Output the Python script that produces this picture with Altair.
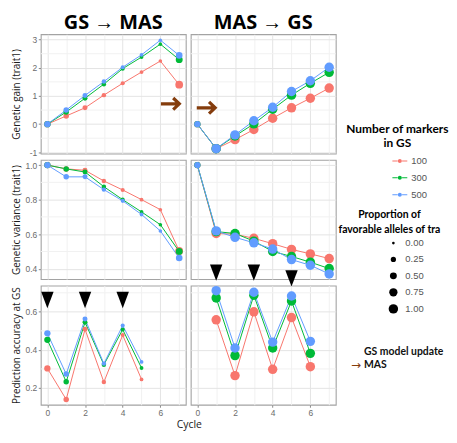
import altair as alt
import pandas as pd

cycles = [0, 1, 2, 3, 4, 5, 6, 7]
markers = ["100", "300", "500"]
colors = ["#F8766D", "#00BA38", "#619CFF"]
scenarios = ["GS → MAS", "MAS → GS"]

# ---- GS -> MAS ----
gain_gsmas = {
    "100": [0, 0.29, 0.58, 1.03, 1.45, 1.85, 2.24, 1.40],
    "300": [0, 0.43, 0.92, 1.42, 1.97, 2.38, 2.84, 2.29],
    "500": [0, 0.50, 1.02, 1.51, 2.02, 2.46, 2.98, 2.44],
}
var_gsmas = {
    "100": [1.0, 0.978, 0.970, 0.908, 0.856, 0.800, 0.742, 0.503],
    "300": [1.0, 0.978, 0.960, 0.875, 0.800, 0.729, 0.655, 0.500],
    "500": [1.0, 0.932, 0.932, 0.858, 0.793, 0.714, 0.619, 0.462],
}
acc_gsmas = {
    "100": [0.303, 0.140, 0.508, 0.231, 0.478, 0.245, None, None],
    "300": [0.453, 0.233, 0.545, 0.322, 0.507, 0.305, None, None],
    "500": [0.487, 0.273, 0.562, 0.328, 0.528, 0.337, None, None],
}
prop_gsmas = {
    "100": [0.40, 0.28, 0.22, 0.16, 0.12, 0.09, 0.07, 0.65],
    "300": [0.40, 0.28, 0.22, 0.16, 0.12, 0.09, 0.07, 0.50],
    "500": [0.40, 0.28, 0.22, 0.16, 0.12, 0.09, 0.07, 0.45],
}

# ---- MAS -> GS ----
gain_masgs = {
    "100": [0, -0.87, -0.55, -0.19, 0.21, 0.58, 0.92, 1.28],
    "300": [0, -0.87, -0.42, 0.01, 0.53, 1.03, 1.45, 1.84],
    "500": [0, -0.87, -0.38, 0.12, 0.60, 1.16, 1.54, 2.02],
}
var_masgs = {
    "100": [1.0, 0.604, 0.600, 0.576, 0.545, 0.512, 0.486, 0.459],
    "300": [1.0, 0.615, 0.604, 0.560, 0.500, 0.471, 0.438, 0.401],
    "500": [1.0, 0.619, 0.582, 0.550, 0.514, 0.453, 0.420, 0.370],
}
acc_masgs = {
    "100": [None, 0.558, 0.265, 0.600, 0.298, 0.570, 0.312, None],
    "300": [None, 0.673, 0.370, 0.687, 0.410, 0.657, 0.382, None],
    "500": [None, 0.711, 0.410, 0.703, 0.441, 0.683, 0.445, None],
}
prop_masgs = {
    "100": [0.40, 1, 1, 1, 1, 1, 1, 1],
    "300": [0.40, 1, 1, 1, 1, 1, 1, 1],
    "500": [0.40, 1, 1, 1, 1, 1, 1, 1],
}

# annotations
arrow_cycle = {"GS → MAS": 6.53, "MAS → GS": 0.47}
arrow_gain = {"GS → MAS": 0.72, "MAS → GS": 0.58}
update_cycles = {"GS → MAS": [0, 2, 4], "MAS → GS": [1, 3, 5]}
update_y = {"GS → MAS": [0.662, 0.662, 0.662], "MAS → GS": [0.806, 0.806, 0.776]}

series = {
    "GS → MAS": (gain_gsmas, var_gsmas, acc_gsmas, prop_gsmas),
    "MAS → GS": (gain_masgs, var_masgs, acc_masgs, prop_masgs),
}
rows = []
for scn in scenarios:
    g, v, a, p = series[scn]
    for m in markers:
        for i, c in enumerate(cycles):
            rows.append({"scenario": scn, "markers": m, "cycle": c,
                         "gain": g[m][i], "variance": v[m][i],
                         "accuracy": a[m][i], "prop": p[m][i]})
df = pd.DataFrame(rows)

BROWN = "#843C0C"
MAJOR_GRID = "#E4E4E4"
MINOR_GRID = "#F1F1F1"
W, H = 146, 120
XDOM = [-0.35, 7.35]

row_specs = [
    dict(field="gain", domain=[-1.04, 3.19], major=[-1, 0, 1, 2, 3], minor=[-0.5, 0.5, 1.5, 2.5],
         label="replace(datum.label, '\u2212', '-')", fmt="d", title="Genetic gain (trait1)"),
    dict(field="variance", domain=[0.34, 1.03], major=[0.4, 0.6, 0.8, 1.0], minor=[0.5, 0.7, 0.9],
         label="datum.label", fmt=".1f", title="Genetic variance (trait1)"),
    dict(field="accuracy", domain=[0.112, 0.738], major=[0.2, 0.4, 0.6], minor=[0.3, 0.5, 0.7],
         label="datum.label", fmt=".1f", title="Prediction accuracy at GS"),
]


def cond(test, a, b):
    return {"condition": {"test": test, "value": a}, "value": b}


color_legend = alt.Legend(
    title=["Number of markers", "in GS"], orient="none", legendX=307, legendY=90,
    titleAnchor="middle", titleAlign="center", titleFont="Lato", titleFontSize=12,
    titleFontWeight="bold", titleColor="black", titleLineHeight=15, titlePadding=3,
    symbolType="M-1,-0.07H-0.3V0.07H-1Z M0.3,-0.07H1V0.07H0.3Z M-0.27,0A0.27,0.27 0 1,0 0.27,0A0.27,0.27 0 1,0 -0.27,0Z",
    symbolSize=225, symbolOffset=24, symbolStrokeWidth=0, labelFont="Liberation Sans",
    labelFontSize=9.5, labelColor="#555555", labelOffset=4, rowPadding=5)

size_legend = alt.Legend(
    title=["Proportion of", "favorable alleles of tra"], orient="none", legendX=299, legendY=177,
    titleAnchor="middle", titleAlign="center", titleFont="Lato", titleFontSize=10.5,
    titleFontWeight="bold", titleColor="black", titleLineHeight=15, titlePadding=3,
    values=[0, 0.25, 0.5, 0.75, 1.0], format=".2f", symbolType="circle",
    symbolFillColor="black", symbolStrokeColor="black", symbolStrokeWidth=0,
    symbolOffset=34, labelFont="Liberation Sans", labelFontSize=9.5, labelColor="#555555",
    labelOffset=7, rowPadding=5.5, gridAlign="all")


def panel(r, col):
    spec = row_specs[r]
    scn = scenarios[col]
    f = spec["field"]
    left = col == 0
    bottom = r == 2
    sub = df[df["scenario"] == scn]

    xaxis = alt.Axis(
        values=cycles, grid=True, domain=False, labelOverlap=False,
        gridColor=cond("datum.value % 2 === 0", MAJOR_GRID, MINOR_GRID),
        labels=bottom, ticks=bottom, labelExpr="datum.value % 2 === 0 ? datum.label : ''",
        tickColor=cond("datum.value % 2 === 0", "#8a8a8a", "transparent"),
        tickSize=2.5, labelPadding=1.5, labelFont="Liberation Sans", labelFontSize=8.5,
        labelColor="#6b6b6b", title="Cycle" if (bottom and left) else None,
        titleX=149, titleAlign="center", titleFont="Open Sans", titleFontSize=10.5,
        titleFontWeight="normal", titleColor="#1a1a1a", titlePadding=2.5)
    yaxis = alt.Axis(
        values=spec["major"], grid=True, gridColor=MAJOR_GRID, domain=False, labelOverlap=False,
        labels=left, ticks=left, format=spec["fmt"], labelExpr=spec["label"],
        tickColor="#8a8a8a", tickSize=2.5, labelPadding=1.5, labelFont="Liberation Sans",
        labelFontSize=8.5, labelColor="#6b6b6b", minExtent=16, maxExtent=16,
        title=spec["title"] if left else None, titleFont="Open Sans", titleFontSize=10,
        titleFontWeight="normal", titleColor="#1a1a1a", titlePadding=3)

    x = alt.X("cycle:Q", scale=alt.Scale(domain=XDOM, nice=False, zero=False), axis=xaxis)
    y = alt.Y(f"{f}:Q", scale=alt.Scale(domain=spec["domain"], nice=False, zero=False), axis=yaxis)
    col_enc = alt.Color("markers:N", scale=alt.Scale(domain=markers, range=colors), legend=color_legend)

    minor = alt.Chart(pd.DataFrame({f: spec["minor"]})).mark_rule(
        color=MINOR_GRID, strokeWidth=1).encode(y=y)

    base = alt.Chart(sub).transform_filter(f"isValid(datum.{f})")
    lines = base.mark_line(strokeWidth=1).encode(x=x, y=y, color=col_enc)
    pts = base.mark_circle(opacity=1).encode(
        x=x, y=y, color=col_enc,
        size=alt.Size("prop:Q", scale=alt.Scale(domain=[0, 1], range=[7, 90]), legend=size_legend),
        order=alt.Order("markers:N"))
    layers = [minor, lines, pts]

    if r == 0:
        adf = pd.DataFrame({"cycle": [arrow_cycle[scn]], "gain": [arrow_gain[scn]]})
        layers.append(alt.Chart(adf).mark_point(
            shape="M-1,0L0.8,0M0.3,-0.62L0.95,0L0.3,0.62", filled=False, color=BROWN,
            strokeWidth=3.2, size=361, opacity=1).encode(x=x, y=y))
    if r == 2:
        tdf = pd.DataFrame({"cycle": update_cycles[scn], "accuracy": update_y[scn]})
        layers.append(alt.Chart(tdf).mark_point(
            shape="M-1,-1.32L1,-1.32L0,1.32Z", filled=True, color="black",
            size=156, opacity=1).encode(x=x, y=y))
        if col == 1:
            t1 = pd.DataFrame({"cycle": [8.85], "accuracy": [0.39], "t": ["GS model update"]})
            t2 = pd.DataFrame({"cycle": [8.85], "accuracy": [0.322], "t": ["MAS"]})
            t3 = pd.DataFrame({"cycle": [8.42], "accuracy": [0.322], "t": ["→"]})
            for tdf2, al, fnt, fw, fs, c in [(t1, "left", "Lato", "bold", 10.5, "#111"),
                                            (t2, "left", "Lato", "bold", 10.5, "#111"),
                                            (t3, "center", "DejaVu Sans", "normal", 12, BROWN)]:
                layers.append(alt.Chart(tdf2).mark_text(
                    align=al, baseline="middle", font=fnt, fontWeight=fw, fontSize=fs, color=c
                ).encode(x=x, y=y, text="t:N"))

    ch = alt.layer(*layers).properties(width=W, height=H)
    if r == 0:
        ch = ch.properties(title=alt.TitleParams(scn, font="Open Sans", fontSize=20, fontWeight="bold",
                                                 color="black", anchor="middle", offset=1))
    return ch


panels = [panel(r, c) for r in range(3) for c in range(2)]
chart = alt.concat(*panels, columns=2, spacing={"row": 6.5, "column": 5}, bounds="flush").configure(
    padding={"left": 3, "top": 3, "right": 0, "bottom": 0}
).configure_view(stroke="#A3A3A3", strokeWidth=1.1).configure_legend(padding=0).configure_axis(
    labelOverlap=False)

chart.save("out.html", embed_options={"renderer": "svg", "actions": False})
